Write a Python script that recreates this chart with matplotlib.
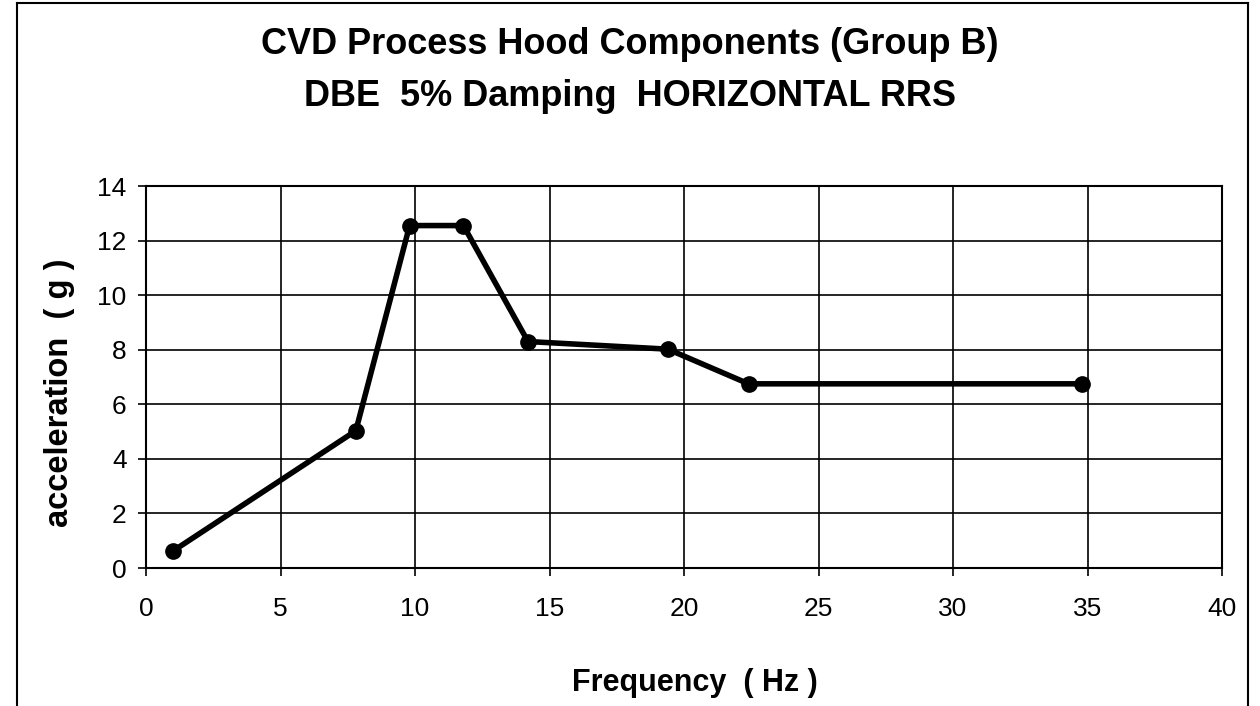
import matplotlib
matplotlib.use("Agg")
import matplotlib.pyplot as plt
from matplotlib.lines import Line2D

plt.rcParams['font.family'] = ['Liberation Sans', 'DejaVu Sans']

freq = [1.0, 7.8, 9.8, 11.8, 14.2, 19.4, 22.4, 34.8]
accel = [0.62, 5.03, 12.55, 12.55, 8.3, 8.02, 6.75, 6.75]
x_ticks = [0, 5, 10, 15, 20, 25, 30, 35, 40]
y_ticks = [0, 2, 4, 6, 8, 10, 12, 14]

title_1 = "CVD Process Hood Components (Group B)"
title_2 = "DBE  5% Damping  HORIZONTAL RRS"
x_label = "Frequency  ( Hz )"
y_label = "acceleration  ( g )"

W, H = 1260, 706
fig = plt.figure(figsize=(12.6, 7.06), dpi=100)
ax = fig.add_axes([146/W, 1-568/H, (1222-146)/W, (568-186)/H])

ax.plot(freq, accel, color='black', lw=4.0, marker='o', markersize=11,
        solid_joinstyle='round', zorder=3, clip_on=False)

ax.set_xlim(0, 40)
ax.set_ylim(0, 14)
ax.set_xticks(x_ticks)
ax.set_yticks(y_ticks)
ax.grid(True, color='black', lw=1.2)
for s in ax.spines.values():
    s.set_linewidth(1.5)
ax.tick_params(direction='out', length=6, width=1.2, labelsize=19)
ax.tick_params(axis='x', pad=15)
ax.tick_params(axis='y', pad=8)
ax.set_xlabel(x_label, fontsize=22, fontweight='bold')
ax.set_ylabel(y_label, fontsize=23.5, fontweight='bold')
ax.xaxis.set_label_coords((695-146)/(1222-146), -(683-568)/(568-186))
ax.yaxis.set_label_coords(-(146-60)/(1222-146), (568-393)/(568-186))
ax.xaxis.label.set_va('center')
ax.yaxis.label.set_va('center')

fig.text(0.5, 1-45/H, title_1, ha='center', va='center', fontsize=26, fontweight='bold')
fig.text(0.5, 1-96/H, title_2, ha='center', va='center', fontsize=26, fontweight='bold')

# outer chart border
for (x0, y0, x1, y1) in [(17, 3, 1248, 3), (17, 3, 17, 706), (1248, 3, 1248, 706)]:
    fig.add_artist(Line2D([x0/W, x1/W], [1-y0/H, 1-y1/H], color='black', lw=1.5,
                          transform=fig.transFigure))

fig.savefig("out.png", dpi=100, facecolor='white')
